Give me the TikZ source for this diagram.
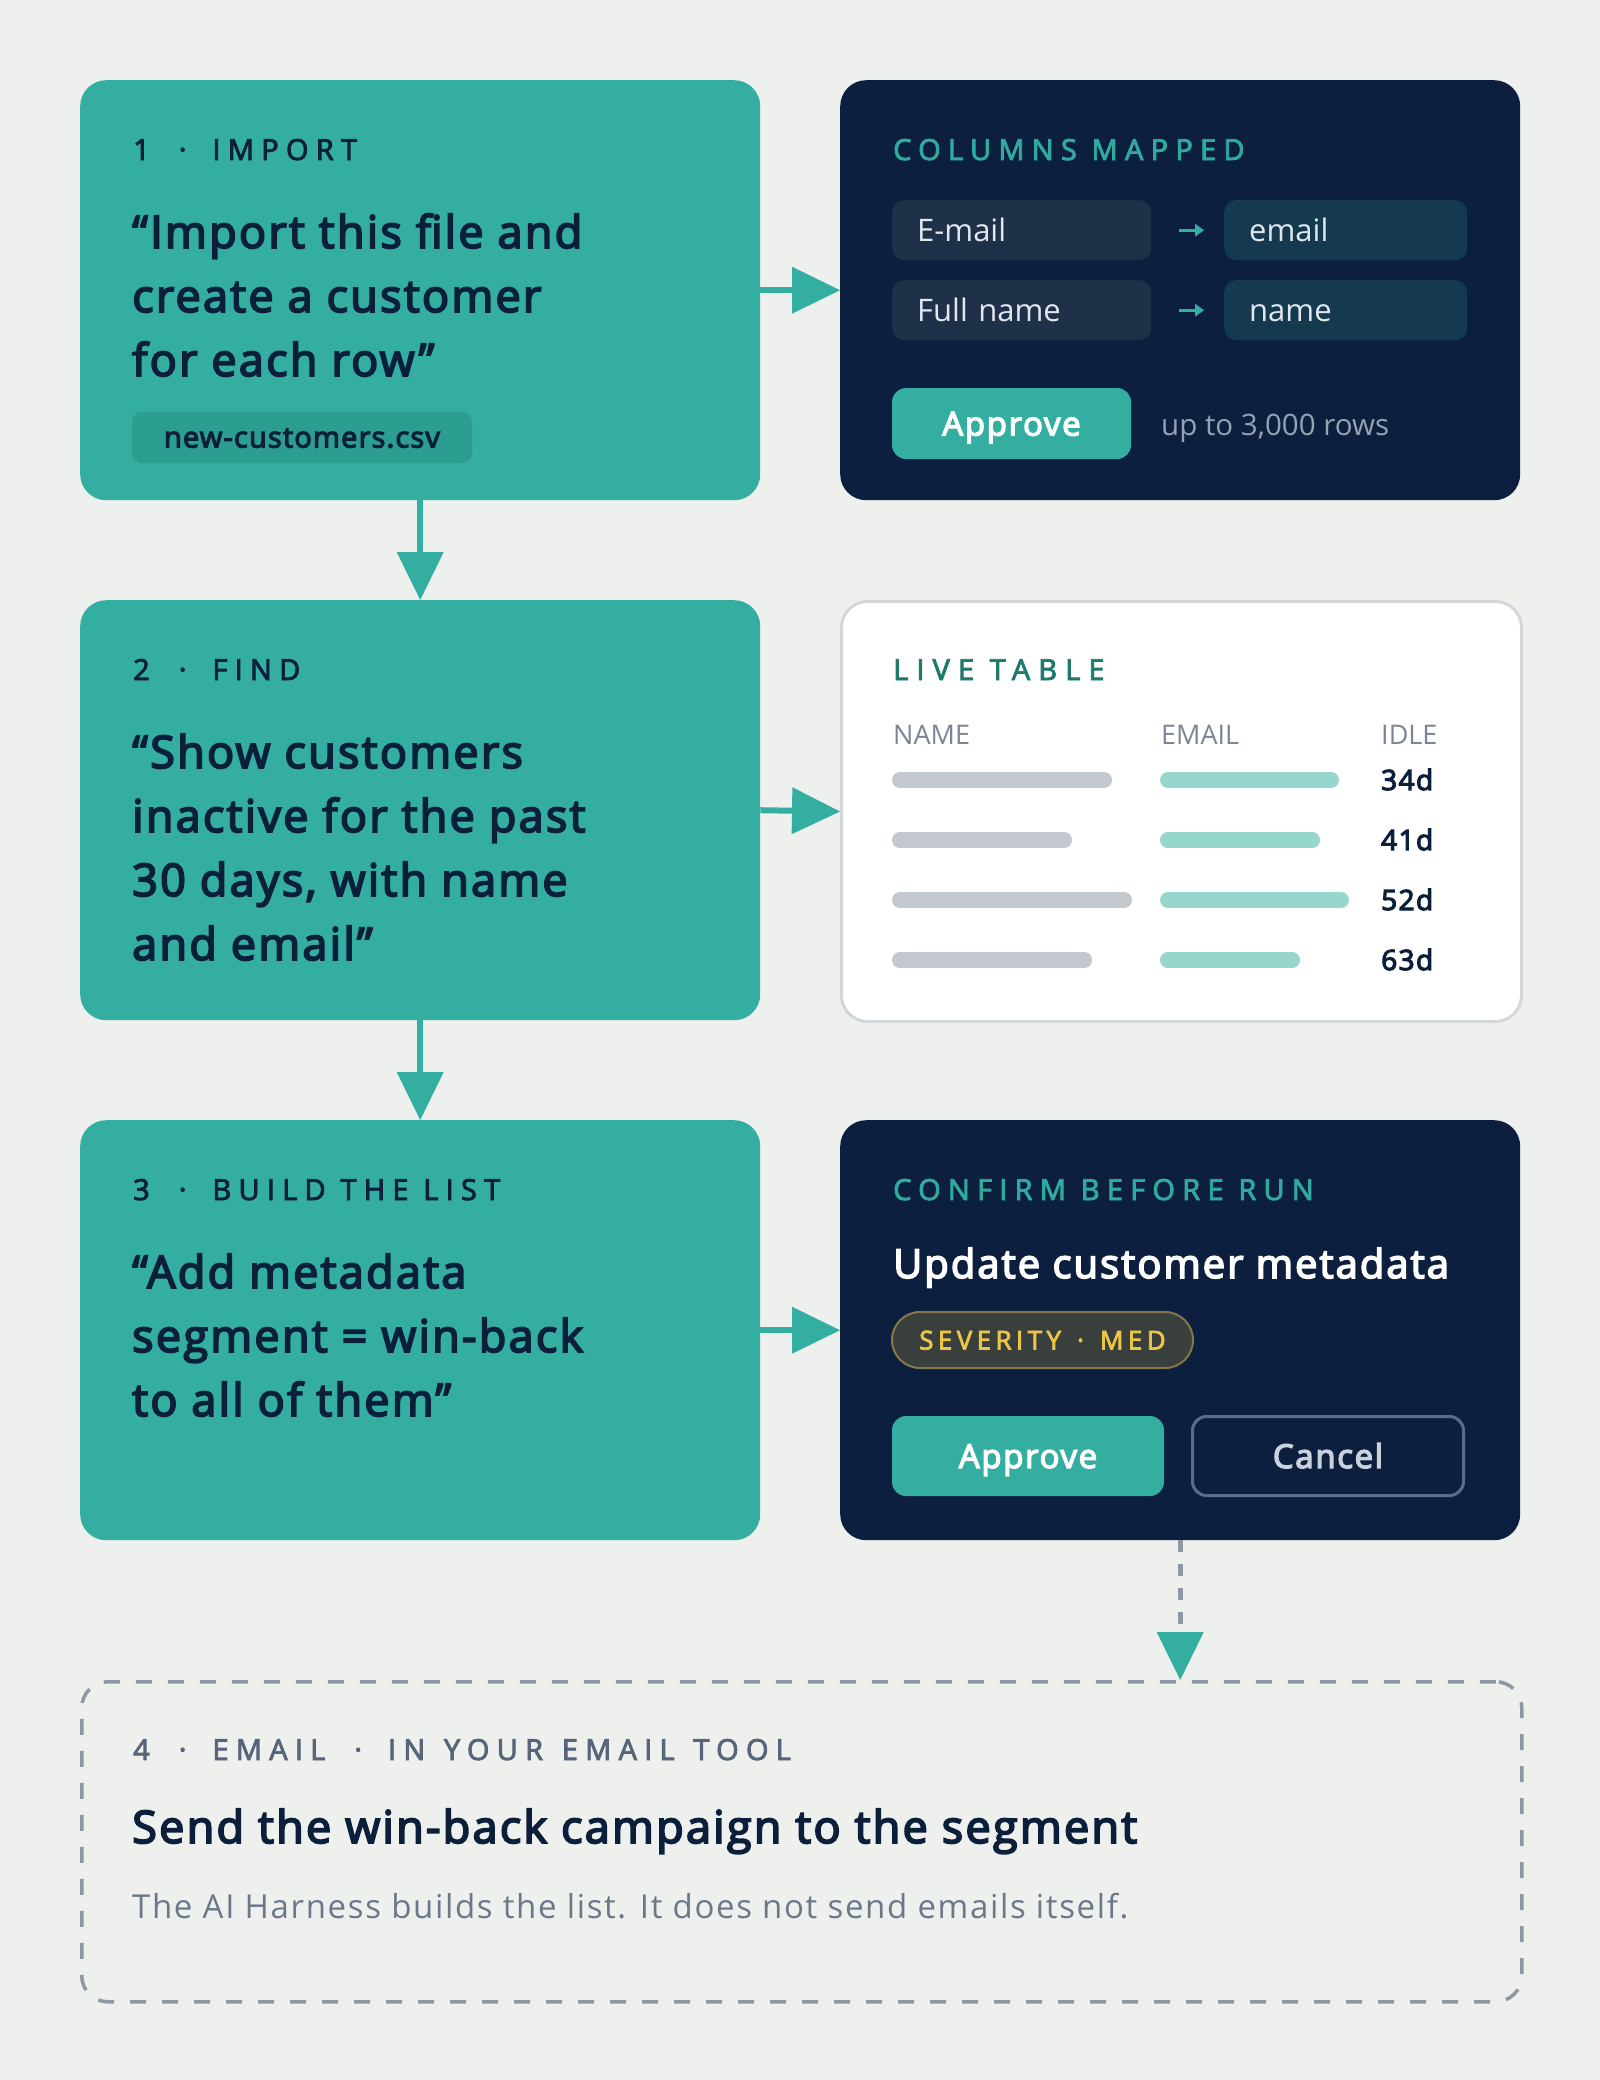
\documentclass[tikz,border=0pt]{standalone}
\usepackage{fontspec}
\setmainfont{Open Sans}
\newfontfamily\bfam{Open Sans}[FakeBold=4,LetterSpace=5]
\newfontfamily\spacedfont{Open Sans}[FakeBold=3,LetterSpace=25]
\newcommand\sepdot{\hspace{29pt}·\hspace{26pt}}
\usetikzlibrary{arrows.meta,calc}
\definecolor{bg}{HTML}{EEF0ED}
\definecolor{tealc}{HTML}{33AEA1}
\definecolor{navy}{HTML}{0C1F3F}
\definecolor{ink}{HTML}{0B1F3A}
\definecolor{chipc}{HTML}{2C9D91}
\definecolor{fieldL}{HTML}{1F3049}
\definecolor{fieldR}{HTML}{153A50}
\definecolor{tealt}{HTML}{2FAB9D}
\definecolor{livet}{HTML}{1E7A6D}
\definecolor{headgray}{HTML}{7B8595}
\definecolor{barG}{HTML}{C3C8CF}
\definecolor{barT}{HTML}{97D6CC}
\definecolor{borderc}{HTML}{D3D7DA}
\definecolor{yel}{HTML}{EAC548}
\definecolor{pillfill}{HTML}{393F3C}
\definecolor{pillborder}{HTML}{85774A}
\definecolor{cancelb}{HTML}{5C6C88}
\definecolor{cancelt}{HTML}{C9D1DC}
\definecolor{uptogray}{HTML}{96A2B3}
\definecolor{dashgray}{HTML}{8D98A3}
\definecolor{labfour}{HTML}{56657A}
\definecolor{bodyfour}{HTML}{6B7889}
\definecolor{fieldtext}{HTML}{E2E7EE}
\begin{document}
\begin{tikzpicture}[x=1pt,y=-1pt,
  panel/.style={rounded corners=26pt, minimum width=680pt, minimum height=420pt, anchor=north west, inner sep=0pt},
  tealpanel/.style={panel, fill=tealc},
  navypanel/.style={panel, fill=navy},
  whitepanel/.style={panel, fill=white, draw=borderc, line width=3pt},
  lab/.style={anchor=base west, inner sep=0pt, font=\spacedfont\fontsize{29}{34}\selectfont, text=ink},
  quote/.style={anchor=base west, inner sep=0pt, font=\bfam\fontsize{45}{54}\selectfont, text=ink},
  fieldbox/.style={anchor=north west, rounded corners=12pt, minimum height=60pt, inner xsep=25pt, inner ysep=0pt, align=left, text height=22pt, text depth=0pt, font=\fontsize{31}{36}\selectfont, text=fieldtext},
  btn/.style={rounded corners=14pt, inner sep=0pt, text height=24pt, text depth=0pt, font=\bfam\fontsize{33}{38}\selectfont},
  hdr/.style={anchor=base west, inner sep=0pt, font=\fontsize{27}{32}\selectfont, text=headgray},
  idle/.style={anchor=base west, inner sep=0pt, font=\bfam\fontsize{28}{32}\selectfont, text=ink},
  barg/.style={line width=16pt, line cap=round, draw=barG},
  bart/.style={line width=16pt, line cap=round, draw=barT},
  conn/.style={draw=tealc, line width=6pt, -{Triangle[length=48pt,width=47pt,line width=0pt,fill=tealc]}},
  dconn/.style={draw=dashgray, line width=5pt, dash pattern=on 12pt off 12pt, -{Triangle[length=48pt,width=47pt,line width=0pt,color=tealc,fill=tealc]}},
  farrow/.style={draw=tealc, line width=3pt, -{Triangle[length=9pt,width=13pt,line width=0pt]}}
]
\useasboundingbox (0,0) rectangle (1600,2080);
\fill[bg] (0,0) rectangle (1600,2080);

% ---------- panels ----------
\node[tealpanel] (b1) at (80,80) {};
\node[navypanel] (r1) at (840,80) {};
\node[tealpanel] (b2) at (80,600) {};
\node[whitepanel] (r2) at (840,600) {};
\node[tealpanel] (b3) at (80,1120) {};
\node[navypanel] (r3) at (840,1120) {};
\node[panel, minimum width=1440pt, minimum height=320pt, draw=dashgray, line width=3.5pt, dash pattern=on 16pt off 16pt] (b4) at (80,1680) {};

% ---------- step 1 ----------
\node[lab] (l1) at (133,160) {1\sepdot IMPORT};
\node[quote] (q1a) at (132,248) {“Import this file and};
\node[quote] (q1b) at (132,312) {create a customer};
\node[quote] (q1c) at (132,376) {for each row”};
\node[fill=chipc, rounded corners=10pt, minimum width=340pt, minimum height=51pt, inner sep=0pt, text height=20pt, text depth=0pt, font=\bfam\addfontfeature{LetterSpace=4}\fontsize{29}{34}\selectfont, text=ink] (csv) at (302,437.5) {new-customers.csv};

% ---------- columns mapped ----------
\node[lab, text=tealt] (t1) at (893,160) {COLUMNS MAPPED};
\node[fieldbox, fill=fieldL, text width=209pt] (f1) at (892,200) {E-mail};
\node[fieldbox, fill=fieldR, text width=193pt] (g1) at (1224,200) {email};
\node[fieldbox, fill=fieldL, text width=209pt] (f2) at (892,280) {Full name};
\node[fieldbox, fill=fieldR, text width=193pt] (g2) at (1224,280) {name};
\draw[farrow, shorten <=28pt, shorten >=20pt] (f1.east) -- (g1.west);
\draw[farrow, shorten <=28pt, shorten >=20pt] (f2.east) -- (g2.west);
\node[btn, fill=tealc, text=white, minimum width=239pt, minimum height=71pt] (a1) at (1011.5,423.5) {Approve};
\node[anchor=base west, inner sep=0pt, font=\fontsize{29.5}{34}\selectfont, text=uptogray] (rows) at (1161,435) {up to 3,000 rows};

% ---------- step 2 ----------
\node[lab] (l2) at (133,680) {2\sepdot FIND};
\node[quote] (q2a) at (132,768) {“Show customers};
\node[quote] (q2b) at (132,832) {inactive for the past};
\node[quote] (q2c) at (132,896) {30 days, with name};
\node[quote] (q2d) at (132,960) {and email”};

% ---------- live table ----------
\node[lab, text=livet, font=\spacedfont\addfontfeature{LetterSpace=28}\fontsize{29}{34}\selectfont] (t2) at (893,680) {LIVE TABLE};
\node[hdr] (hn) at (893,744) {NAME};
\node[hdr] (he) at (1161,744) {EMAIL};
\node[hdr] (hi) at (1381,744) {IDLE};
\draw[barg] (900,780) -- (1104,780);
\draw[bart] (1168,780) -- (1331,780);
\draw[barg] (900,840) -- (1064,840);
\draw[bart] (1168,840) -- (1312,840);
\draw[barg] (900,900) -- (1124,900);
\draw[bart] (1168,900) -- (1341,900);
\draw[barg] (900,960) -- (1084,960);
\draw[bart] (1168,960) -- (1292,960);
\node[idle] (d1) at (1381,790) {34d};
\node[idle] (d2) at (1381,850) {41d};
\node[idle] (d3) at (1381,910) {52d};
\node[idle] (d4) at (1381,970) {63d};

% ---------- step 3 ----------
\node[lab] (l3) at (133,1200) {3\sepdot BUILD THE LIST};
\node[quote] (q3a) at (132,1288) {“Add metadata};
\node[quote] (q3b) at (132,1352) {segment = win-back};
\node[quote] (q3c) at (132,1416) {to all of them”};

% ---------- confirm ----------
\node[lab, text=tealt] (t3) at (893,1200) {CONFIRM BEFORE RUN};
\node[anchor=base west, inner sep=0pt, font=\bfam\fontsize{40}{48}\selectfont, text=white] (u3) at (893,1278) {Update customer metadata};
\node[fill=pillfill, draw=pillborder, line width=2pt, rounded corners=28pt, minimum width=301pt, minimum height=56pt, inner sep=0pt, text height=19pt, text depth=0pt, font=\spacedfont\addfontfeature{LetterSpace=17}\fontsize{26}{30}\selectfont, text=yel] (sev) at (1042.5,1340) {SEVERITY\hspace{16pt}·\hspace{16pt}MED};
\node[btn, fill=tealc, text=white, minimum width=272pt, minimum height=80pt] (a3) at (1028,1456) {Approve};
\node[btn, draw=cancelb, line width=3pt, text=cancelt, minimum width=271pt, minimum height=79pt] (c3) at (1328,1456) {Cancel};

% ---------- step 4 ----------
\node[lab, text=labfour] (l4) at (133,1760) {4\sepdot EMAIL\sepdot IN\hspace{4pt} YOUR\hspace{4pt} EMAIL\hspace{4pt} TOOL};
\node[anchor=base west, inner sep=0pt, font=\bfam\fontsize{45}{52}\selectfont, text=ink] (s4) at (132,1843) {Send the win-back campaign to the segment};
\node[anchor=base west, inner sep=0pt, font=\addfontfeature{LetterSpace=5}\fontsize{33}{38}\selectfont, text=bodyfour] (n4) at (132,1918) {The AI Harness builds the list. It does not send emails itself.};

% ---------- connectors ----------
\draw[conn] (b1.east) -- (r1.west);
\draw[conn] (b2.east) -- (r2.west);
\draw[conn] (b3.east) -- (r3.west);
\draw[conn] (b1.south) -- (b2.north);
\draw[conn] (b2.south) -- (b3.north);
\draw[dconn] (r3.south) -- (r3.south |- b4.north);
\end{tikzpicture}
\end{document}
